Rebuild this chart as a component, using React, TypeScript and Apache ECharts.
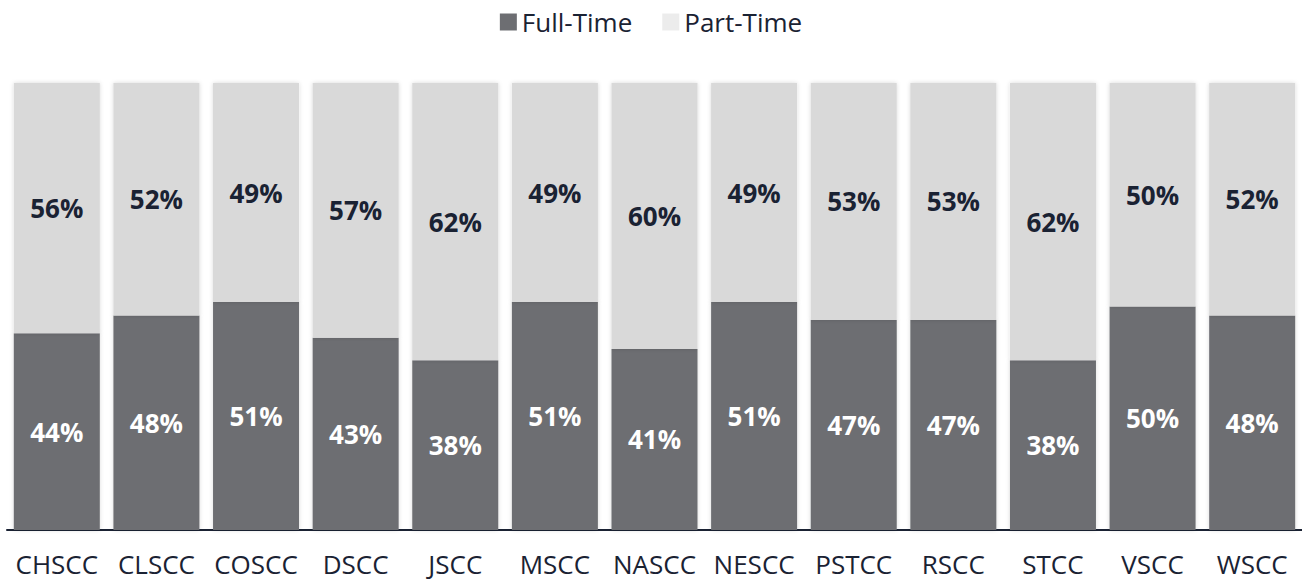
import React, { useEffect, useRef } from "react";
import * as echarts from "echarts";

const categories = ["CHSCC", "CLSCC", "COSCC", "DSCC", "JSCC", "MSCC", "NASCC", "NESCC", "PSTCC", "RSCC", "STCC", "VSCC", "WSCC"];
const fullTime = [44, 48, 51, 43, 38, 51, 40.5, 51, 47, 47, 38, 50, 48];
const partTime = [56, 52, 49, 57, 62, 49, 59.5, 49, 53, 53, 62, 50, 52];
const seriesNames = ["Full-Time", "Part-Time"];

const FONT = "'Open Sans', 'Noto Sans', sans-serif";

export default function App() {
  const ref = useRef<HTMLDivElement>(null);
  useEffect(() => {
    document.body.style.margin = "0";
    const chart = echarts.init(ref.current!, null, { renderer: "svg" });
    const fmt = (p: any) => Math.round(p.value) + "%";
    chart.setOption({
      animation: false,
      legend: {
        top: 4,
        left: "center",
        itemWidth: 17,
        itemHeight: 17,
        itemGap: 30,
        icon: "rect",
        textStyle: { fontFamily: FONT, fontSize: 26, color: "#1a2233" },
        data: [
          { name: seriesNames[0], itemStyle: { color: "#6d6e72" } },
          { name: seriesNames[1], itemStyle: { color: "#ececec" } },
        ],
      },
      grid: { left: 7, right: 0, top: 83, bottom: 53, containLabel: false },
      xAxis: {
        type: "category",
        data: categories,
        axisLine: { lineStyle: { color: "#1a2233", width: 2 } },
        axisTick: { show: false },
        axisLabel: { interval: 0, fontFamily: FONT, fontSize: 26, lineHeight: 24, color: "#1a2233", margin: 22 },
      },
      yAxis: {
        type: "value",
        min: 0,
        max: 100,
        show: false,
        splitLine: { show: false },
      },
      series: [
        {
          name: seriesNames[0],
          type: "bar",
          stack: "total",
          data: fullTime,
          barWidth: 86,
          itemStyle: { color: "#6d6e72", shadowBlur: 4, shadowColor: "rgba(0,0,0,0.15)" },
          label: {
            show: true,
            position: "inside",
            formatter: fmt,
            color: "#ffffff",
            fontFamily: FONT,
            fontWeight: "bold",
            fontSize: 26,
          },
        },
        {
          name: seriesNames[1],
          type: "bar",
          stack: "total",
          data: partTime,
          barWidth: 86,
          itemStyle: { color: "#d9d9d9", shadowBlur: 4, shadowColor: "rgba(0,0,0,0.15)" },
          label: {
            show: true,
            position: "inside",
            formatter: fmt,
            color: "#1a2233",
            fontFamily: FONT,
            fontWeight: "bold",
            fontSize: 26,
          },
        },
      ],
    });
    return () => chart.dispose();
  }, []);
  return <div ref={ref} style={{ position: "absolute", left: 0, top: 0, width: 1302, height: 583 }} />;
}
